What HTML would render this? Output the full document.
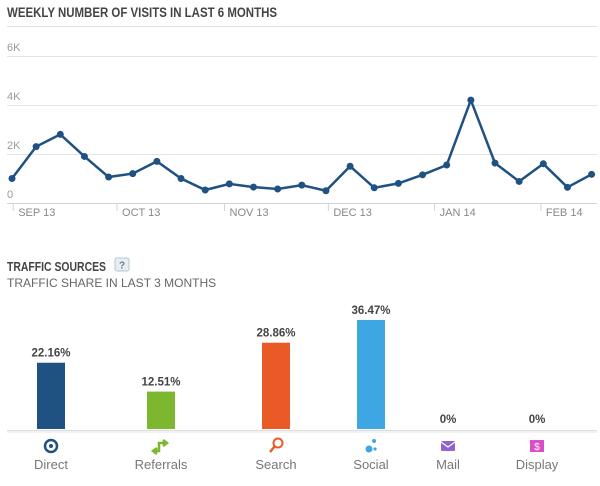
<!DOCTYPE html>
<html><head><meta charset="utf-8"><style>
body{margin:0;width:600px;height:481px;background:#fff;font-family:"Liberation Sans",sans-serif;overflow:hidden}
</style></head><body>
<svg width="600" height="481" viewBox="0 0 600 481">
<text x="7" y="17" font-size="13.5" font-weight="bold" fill="#444" textLength="270" lengthAdjust="spacingAndGlyphs">WEEKLY NUMBER OF VISITS IN LAST 6 MONTHS</text>
<line x1="7" y1="26.5" x2="597" y2="26.5" stroke="#e2e2e2"/>
<g id="line"></g>
<text x="7" y="271" font-size="12.5" font-weight="bold" fill="#444" textLength="99" lengthAdjust="spacingAndGlyphs">TRAFFIC SOURCES</text>
<g><rect x="115" y="258" width="14" height="13" rx="2" fill="#e8eef2" stroke="#b8c4cc"/><text x="122" y="268.5" font-size="10" fill="#6a7f8c" text-anchor="middle" font-weight="bold">?</text></g>
<text x="7" y="287" font-size="12" fill="#666">TRAFFIC SHARE IN LAST 3 MONTHS</text>
<line x1="7" y1="430.5" x2="597" y2="430.5" stroke="#ddd"/>
<rect x="7" y="431" width="590" height="2" fill="#f2f2f2"/>
<g id="bars"></g>
</svg>
<script>
const NS='http://www.w3.org/2000/svg';
const weeks=[1.0,2.3,2.8,1.9,1.06,1.2,1.7,1.0,0.53,0.78,0.65,0.57,0.73,0.5,1.5,0.62,0.8,1.15,1.55,4.2,1.63,0.88,1.6,0.64,1.17];
const yTicks=[0,2,4,6];
const yTickLabels=['0','2K','4K','6K'];
const months=['SEP 13','OCT 13','NOV 13','DEC 13','JAN 14','FEB 14'];
const monthStartWeek=[0.05,4.35,8.8,13.1,17.5,21.9];
const sources=['Direct','Referrals','Search','Social','Mail','Display'];
const shares=[22.16,12.51,28.86,36.47,0,0];
const colors=['#1f5182','#7db72f','#e95a26','#3fa6e4','#8e63d0','#d94fc6'];
function mk(t,a,p){const e=document.createElementNS(NS,t);for(const k in a)e.setAttribute(k,a[k]);p.appendChild(e);return e;}
const xW=i=>12+i*24.15, yV=v=>203-v*24.5;
const g=document.getElementById('line');
yTicks.forEach((t,i)=>{
  if(t>0){const l=mk('line',{x1:7,x2:597,y1:yV(t)+0.5,y2:yV(t)+0.5,stroke:'#e4e4e4'},g);
  
  }
  const tx=mk('text',{x:7,y:yV(t)-5,'font-size':11,fill:'#999'},g);tx.textContent=yTickLabels[i];
  
  
});
const ax=mk('line',{x1:7,x2:597,y1:203.5,y2:203.5,stroke:'#ccd6dd'},g);


months.forEach((m,i)=>{
  const x=xW(monthStartWeek[i]);
  mk('line',{x1:x,x2:x,y1:203,y2:211,stroke:'#ccd6dd'},g);
  const t=mk('text',{x:x+5,y:216,'font-size':11,fill:'#888'},g);t.textContent=m;
  
  
});
const pl=mk('polyline',{points:weeks.map((v,i)=>xW(i)+','+yV(v)).join(' '),fill:'none',stroke:'#1f5182','stroke-width':2.5},g);


weeks.forEach((v,i)=>{const c=mk('circle',{cx:xW(i),cy:yV(v),r:3.5,fill:'#1f5182'},g);

});
const b=document.getElementById('bars');
const cx=[51,161,276,371,448,537];
const yS=v=>429-v*2.99;
sources.forEach((s,i)=>{
  if(shares[i]>0){const r=mk('rect',{x:cx[i]-14,y:yS(shares[i]),width:28,height:429-yS(shares[i]),fill:colors[i]},b);
  
  }
  const v=mk('text',{x:cx[i],y:yS(shares[i])-6,'font-size':11.5,'font-weight':'bold',fill:'#444','text-anchor':'middle'},b);
  v.textContent=shares[i]===0?'0%':shares[i].toFixed(2)+'%';
  
  
  const l=mk('text',{x:cx[i],y:469,'font-size':13,fill:'#777','text-anchor':'middle'},b);l.textContent=s;
  
  
});
// icons
const ic=mk('g',{},b);


const c=colors;
mk('circle',{cx:51,cy:446,r:6,fill:'none',stroke:c[0],'stroke-width':2.5},ic);
mk('circle',{cx:51,cy:446,r:2,fill:c[0]},ic);
mk('path',{d:'M153 451 h6 v-8 h8 M157 448 l-4 3 l4 3 M163 440 l4 3 l-4 3',fill:'none',stroke:c[1],'stroke-width':2.5},ic);
mk('circle',{cx:278,cy:443,r:4.5,fill:'none',stroke:c[2],'stroke-width':2},ic);
mk('line',{x1:275,y1:446,x2:270,y2:452,stroke:c[2],'stroke-width':2.5},ic);
mk('circle',{cx:369,cy:449,r:3.5,fill:c[3]},ic);mk('circle',{cx:374,cy:441,r:2,fill:c[3]},ic);mk('circle',{cx:375,cy:449,r:1.6,fill:c[3]},ic);
mk('rect',{x:441,y:441,width:14,height:10,rx:1,fill:c[4]},ic);
mk('path',{d:'M441 442 l7 5 l7 -5',fill:'none',stroke:'#fff','stroke-width':1.2},ic);
mk('rect',{x:530,y:440,width:14,height:12,fill:c[5]},ic);
const dl=mk('text',{x:537,y:450,'font-size':10,fill:'#fff','text-anchor':'middle'},ic);dl.textContent='$';
</script>
</body></html>
